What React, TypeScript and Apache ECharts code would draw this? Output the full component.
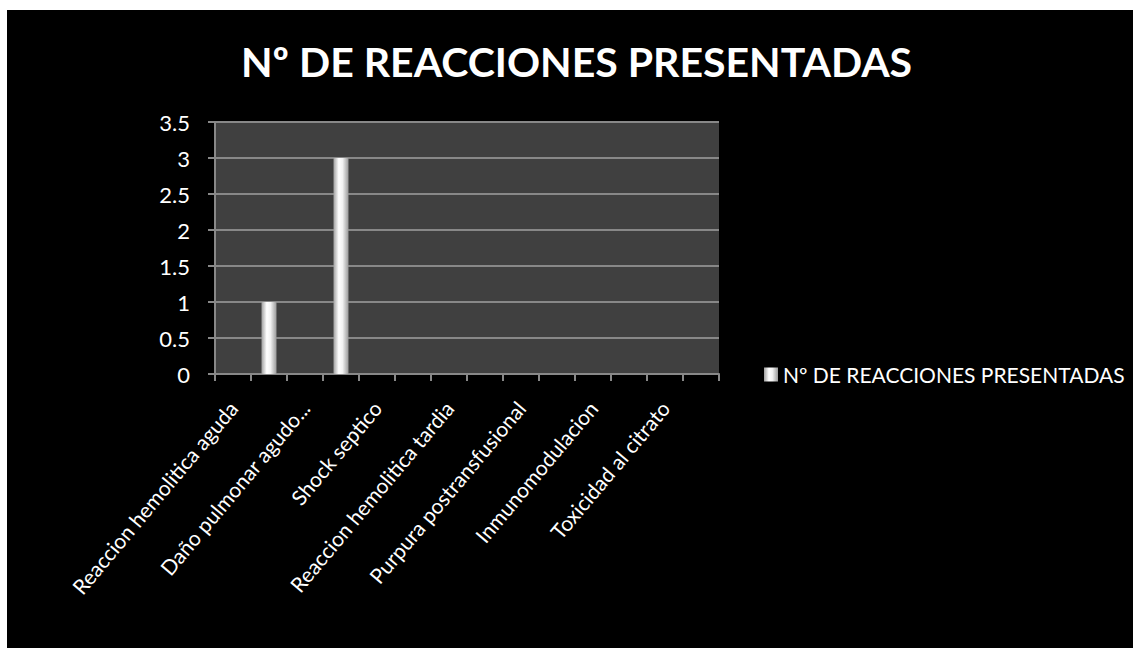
import React, { useEffect, useRef } from "react";
import * as echarts from "echarts";

const titleText = "Nº DE REACCIONES PRESENTADAS";
const seriesName = "Nº DE REACCIONES PRESENTADAS";
const categories = [
  "Reaccion hemolitica aguda",
  "Reaccion febril no hemolitica",
  "Daño pulmonar agudo...",
  "Reaccion alergica",
  "Shock septico",
  "Sobrecarga circulatoria",
  "Reaccion hemolitica tardia",
  "Aloinmunizacion",
  "Purpura postransfusional",
  "Enfermedad injerto contra huesped",
  "Inmunomodulacion",
  "Hemosiderosis",
  "Toxicidad al citrato",
  "Hiperkalemia",
];
const values = [0, 1, 0, 3, 0, 0, 0, 0, 0, 0, 0, 0, 0, 0];
const yMin = 0;
const yMax = 3.5;
const yStep = 0.5;

const FONT = "Lato, 'Open Sans', sans-serif";

export default function App() {
  const ref = useRef<HTMLDivElement>(null);
  useEffect(() => {
    if (!ref.current) return;
    const chart = echarts.init(ref.current, null, { renderer: "svg" });
    const barFill = new echarts.graphic.LinearGradient(0, 0, 1, 0, [
      { offset: 0, color: "#a0a0a0" },
      { offset: 0.35, color: "#ffffff" },
      { offset: 0.6, color: "#f2f2f2" },
      { offset: 1, color: "#9a9a9a" },
    ]);
    chart.setOption({
      animation: false,
      backgroundColor: "#000000",
      title: {
        text: titleText,
        left: 229,
        top: 26,
        textStyle: { color: "#ffffff", fontFamily: FONT, fontWeight: "bold", fontSize: 41 },
      },
      legend: {
        left: 752,
        top: 349,
        orient: "vertical",
        icon: "rect",
        itemWidth: 14,
        itemHeight: 14,
        itemGap: 6,
        textStyle: { color: "#ffffff", fontFamily: FONT, fontSize: 21 },
        data: [seriesName],
      },
      grid: { left: 208, top: 112, right: 414, bottom: 274, containLabel: false, backgroundColor: "#404040", show: true, borderWidth: 0 },
      xAxis: {
        type: "category",
        data: categories,
        boundaryGap: true,
        axisLine: { show: true, lineStyle: { color: "#888888", width: 2 } },
        axisTick: { show: true, interval: 0, length: 7, lineStyle: { color: "#888888", width: 2 } },
        axisLabel: {
          interval: 1,
          rotate: 50,
          margin: 30,
          color: "#ffffff",
          fontFamily: FONT,
          fontSize: 21,
        },
        splitLine: { show: false },
      },
      yAxis: {
        type: "value",
        min: yMin,
        max: yMax,
        interval: yStep,
        axisLine: { show: true, lineStyle: { color: "#888888", width: 2 } },
        axisTick: { show: true, length: 7, lineStyle: { color: "#888888", width: 2 } },
        axisLabel: { color: "#ffffff", fontFamily: FONT, fontSize: 22, margin: 25 },
        splitLine: { show: true, lineStyle: { color: "#888888", width: 2 } },
      },
      series: [
        {
          name: seriesName,
          type: "bar",
          data: values,
          barWidth: 15,
          itemStyle: { color: barFill },
        },
      ],
    });
    return () => chart.dispose();
  }, []);
  return (
    <div
      ref={ref}
      style={{ position: "absolute", left: 7, top: 10, width: 1126, height: 638 }}
    />
  );
}
